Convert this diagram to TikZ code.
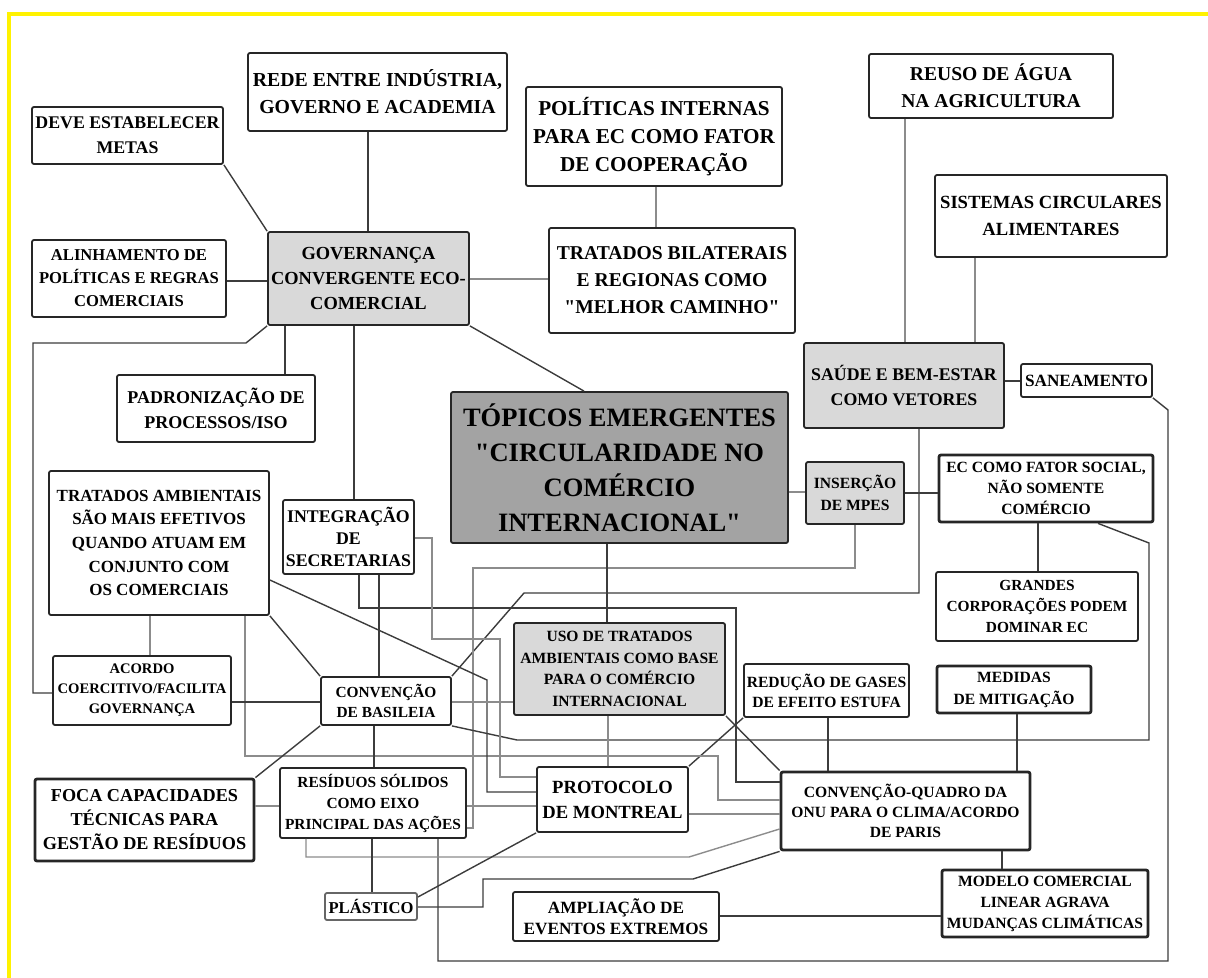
\documentclass[tikz,border=0pt]{standalone}
\usepackage{fontspec}
\setmainfont{Liberation Serif}
\usepackage{xcolor}
\usepackage{tikz}
\definecolor{boxgray}{HTML}{D9D9D9}
\definecolor{topgray}{HTML}{A3A3A3}
\definecolor{linkdark}{HTML}{3C3C3C}
\definecolor{linklight}{HTML}{8C8C8C}
\newcommand{\fsz}[2]{\fontsize{#1}{#2}\selectfont\bfseries}
\newcommand{\qt}{\textquotedbl}
\tikzset{sz/.style 2 args={minimum width=#1*0.5pt, minimum height=#2*0.5pt}}

\begin{document}
\begin{tikzpicture}[x=0.5pt, y=-0.5pt,
	box/.style={draw=black!85, line width=0.9pt, rounded corners=1pt, fill=white, align=center, inner sep=1pt},
	boxb/.style={box, line width=1.4pt},
	gbox/.style={box, fill=boxgray},
	link/.style={draw=linkdark, line width=0.7pt},
	linkl/.style={draw=linklight, line width=0.7pt}]
	\useasboundingbox (0,0) rectangle (1208,978);
	\draw[yellow, line width=2pt] (9,978) -- (9,14) -- (1208,14);

	\node[box, sz={191}{57}, font=\fsz{8.9}{12.5}] (deve) at (127.5,135.5) {DEVE ESTABELECER\\METAS};
	\node[box, sz={259}{78}, font=\fsz{9.9}{13.5}] (rede) at (377.5,92) {REDE ENTRE INDÚSTRIA,\\GOVERNO E ACADEMIA};
	\node[box, sz={256}{99}, font=\fsz{10.6}{14}] (politicas) at (654,136.5) {POLÍTICAS INTERNAS\\PARA EC COMO FATOR\\DE COOPERAÇÃO};
	\node[box, sz={246}{105}, font=\fsz{9.8}{13.5}] (bilaterais) at (672,280.5) {TRATADOS BILATERAIS\\E REGIONAS COMO\\\qt MELHOR CAMINHO\qt};
	\node[box, sz={244}{64}, font=\fsz{9.8}{13.5}] (reuso) at (991,86) {REUSO DE ÁGUA\\NA AGRICULTURA};
	\node[box, sz={232}{82}, font=\fsz{9.3}{13.5}] (sistemas) at (1051,216) {SISTEMAS CIRCULARES\\ALIMENTARES};
	\node[gbox, sz={201}{93}, font=\fsz{9.2}{12.5}] (governanca) at (368.5,278.5) {GOVERNANÇA\\CONVERGENTE ECO-\\COMERCIAL};
	\node[box, sz={194}{77}, font=\fsz{8.3}{11.5}] (alinhamento) at (129,278.5) {ALINHAMENTO DE\\POLÍTICAS E REGRAS\\COMERCIAIS};
	\node[box, sz={198}{67}, font=\fsz{9}{12.5}] (padronizacao) at (216,408.5) {PADRONIZAÇÃO DE\\PROCESSOS/ISO};
	\node[box, sz={220}{144}, font=\fsz{8.5}{11.8}] (tratamb) at (159,543) {TRATADOS AMBIENTAIS\\SÃO MAIS EFETIVOS\\QUANDO ATUAM EM\\CONJUNTO COM\\OS COMERCIAIS};
	\node[box, sz={131}{74}, font=\fsz{8.9}{11.2}] (integracao) at (348.5,537) {INTEGRAÇÃO\\DE\\SECRETARIAS};
	\node[box, fill=topgray, sz={337}{151}, font=\fsz{13.25}{17.5}] (topicos) at (619.5,467.5) {TÓPICOS EMERGENTES\\\qt CIRCULARIDADE NO\\COMÉRCIO\\INTERNACIONAL\qt};
	\node[gbox, sz={200}{85}, font=\fsz{8.9}{12.5}] (saude) at (904,385.5) {SAÚDE E BEM-ESTAR\\COMO VETORES};
	\node[box, sz={131}{33}, font=\fsz{8.6}{11}] (saneamento) at (1086.5,380.5) {SANEAMENTO};
	\node[gbox, sz={98}{62}, font=\fsz{7.8}{11}] (insercao) at (855,493) {INSERÇÃO\\DE MPES};
	\node[boxb, sz={214}{67}, font=\fsz{7.8}{10.5}] (ecsocial) at (1046,488.5) {EC COMO FATOR SOCIAL,\\NÃO SOMENTE\\COMÉRCIO};
	\node[box, sz={202}{69}, font=\fsz{7.7}{10.5}] (grandes) at (1037,606.5) {GRANDES\\CORPORAÇÕES PODEM\\DOMINAR EC};
	\node[boxb, sz={154}{47}, font=\fsz{7.8}{11}] (medidas) at (1014,689.5) {MEDIDAS\\DE MITIGAÇÃO};
	\node[box, sz={165}{53}, font=\fsz{7.8}{10}] (reducao) at (826.5,690.5) {REDUÇÃO DE GASES\\DE EFEITO ESTUFA};
	\node[gbox, sz={211}{92}, font=\fsz{7.8}{10.75}] (uso) at (619.5,669) {USO DE TRATADOS\\AMBIENTAIS COMO BASE\\PARA O COMÉRCIO\\INTERNACIONAL};
	\node[box, sz={130}{48}, font=\fsz{7.7}{10}] (basileia) at (386,701) {CONVENÇÃO\\DE BASILEIA};
	\node[box, sz={178}{69}, font=\fsz{7.3}{10}] (acordo) at (142,690.5) {ACORDO\\COERCITIVO/FACILITA\\GOVERNANÇA};
	\node[boxb, sz={219}{82}, font=\fsz{9.1}{12}] (foca) at (144.5,820) {FOCA CAPACIDADES\\TÉCNICAS PARA\\GESTÃO DE RESÍDUOS};
	\node[box, sz={186}{70}, font=\fsz{7.7}{10.5}] (residuos) at (373,803) {RESÍDUOS SÓLIDOS\\COMO EIXO\\PRINCIPAL DAS AÇÕES};
	\node[box, draw=black!60, sz={92}{27}, font=\fsz{8.3}{10}] (plastico) at (371,906.5) {PLÁSTICO};
	\node[box, sz={151}{65}, font=\fsz{9.3}{12.5}] (protocolo) at (612.5,799.5) {PROTOCOLO\\DE MONTREAL};
	\node[boxb, sz={249}{78}, font=\fsz{7.8}{10}] (quadro) at (905.5,811) {CONVENÇÃO-QUADRO DA\\ONU PARA O CLIMA/ACORDO\\DE PARIS};
	\node[boxb, sz={206}{67}, font=\fsz{7.8}{10.5}] (modelo) at (1045,903.5) {MODELO COMERCIAL\\LINEAR AGRAVA\\MUDANÇAS CLIMÁTICAS};
	\node[box, sz={206}{49}, font=\fsz{8.6}{10.5}] (ampliacao) at (616,916.5) {AMPLIAÇÃO DE\\EVENTOS EXTREMOS};

	\draw[link] (deve.south east) -- (governanca.north west);
	\draw[link] (rede.south -| 368,0) -- (governanca.north -| 368,0);
	\draw[link] (alinhamento.east |- 0,281) -- (governanca.west |- 0,281);
	\draw[linkl] (governanca.east |- 0,279) -- (bilaterais.west |- 0,279);
	\draw[linkl] (politicas.south -| 656,0) -- (bilaterais.north -| 656,0);
	\draw[link] (governanca.south east) -- (topicos.north -| 584,0);
	\draw[link] (governanca.south west) -- (246,343) -- (33,343) -- (33,693) -- (acordo.west |- 0,693);
	\draw[link] (governanca.south -| 285,0) -- (padronizacao.north -| 285,0);
	\draw[link] (governanca.south -| 354,0) -- (integracao.north -| 354,0);

	\draw[linkl] (reuso.south -| 905,0) -- (saude.north -| 905,0);
	\draw[linkl] (sistemas.south -| 975,0) -- (saude.north -| 975,0);
	\draw[link] (saude.east |- 0,381) -- (saneamento.west |- 0,381);
	\draw[link] (saneamento.south east) -- (1168,410) -- (1168,961) -- (438,961) -- (residuos.south -| 438,0);
	\draw[link] (saude.south -| 919,0) -- (919,593) -- (524,593) -- (basileia.north east);
	\draw[linkl] (topicos.east |- 0,492) -- (insercao.west |- 0,492);
	\draw[link] (insercao.east |- 0,493) -- (ecsocial.west |- 0,493);
	\draw[linkl] (insercao.south -| 855,0) -- (855,568) -- (473,568) -- (473,828) -- (residuos.east |- 0,828);
	\draw[link] (ecsocial.south -| 1038,0) -- (grandes.north -| 1038,0);
	\draw[link] (ecsocial.south -| 1098,0) -- (1149,543) -- (1149,740) -- (517,740) -- (basileia.south east);
	\draw[link] (medidas.south -| 1017,0) -- (quadro.north -| 1017,0);
	\draw[link] (reducao.south -| 828,0) -- (quadro.north -| 828,0);
	\draw[link] (quadro.south -| 1002,0) -- (modelo.north -| 1002,0);
	\draw[link] (ampliacao.east |- 0,916) -- (modelo.west |- 0,916);

	\draw[link] (topicos.south -| 607,0) -- (uso.north -| 607,0);
	\draw[linkl] (uso.south -| 608,0) -- (protocolo.north -| 608,0);
	\draw[link] (uso.south east) -- (quadro.north west);
	\draw[link] (protocolo.north east) -- (reducao.south west);
	\draw[linkl] (protocolo.east |- 0,814) -- (quadro.west |- 0,814);

	\draw[linkl] (tratamb.south -| 150,0) -- (acordo.north -| 150,0);
	\draw[linkl] (tratamb.south -| 245,0) -- (245,756) -- (718,756) -- (718,800) -- (quadro.west |- 0,800);
	\draw[link] (tratamb.south east) -- (basileia.north west);
	\draw[link] (tratamb.east |- 0,580) -- (487,680) -- (487,792) -- (protocolo.west |- 0,792);
	\draw[link] (acordo.east |- 0,702) -- (basileia.west |- 0,702);
	\draw[linkl] (basileia.east |- 0,702) -- (uso.west |- 0,702);
	\draw[link] (basileia.south -| 374,0) -- (residuos.north -| 374,0);
	\draw[link] (basileia.south west) -- (foca.north east);
	\draw[link] (integracao.south -| 379,0) -- (basileia.north -| 379,0);
	\draw[link] (integracao.south -| 359,0) -- (359,608) -- (736,608) -- (736,782) -- (quadro.west |- 0,782);
	\draw[linkl] (integracao.east |- 0,538) -- (432,538) -- (432,639) -- (500,639) -- (500,777) -- (protocolo.west |- 0,777);
	\draw[linkl] (foca.east |- 0,806) -- (residuos.west |- 0,806);
	\draw[linkl] (residuos.east |- 0,806) -- (protocolo.west |- 0,806);
	\draw[linkl] (residuos.south -| 306,0) -- (306,857) -- (689,857) -- (quadro.west |- 0,829);
	\draw[link] (residuos.south -| 372,0) -- (plastico.north -| 372,0);
	\draw[link] (plastico.east |- 0,897) -- (protocolo.south west);
	\draw[link] (plastico.east |- 0,907) -- (483,907) -- (483,879) -- (693,879) -- (quadro.south west);
\end{tikzpicture}
\end{document}
